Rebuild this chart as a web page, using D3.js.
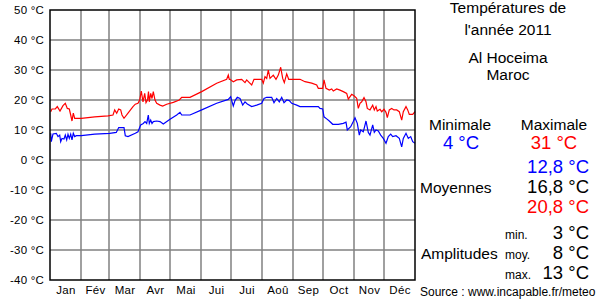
<!DOCTYPE html>
<html>
<head>
<meta charset="utf-8">
<script src="https://cdn.jsdelivr.net/npm/d3@7"></script>
<style>
  body { margin: 0; background: #fff; }
  svg { display: block; font-family: "Liberation Sans", Arial, sans-serif; }
</style>
</head>
<body>
<svg width="600" height="300"></svg>
<script>
// month names and where each month starts (day of year)
var months = ["Jan", "Fév", "Mar", "Avr", "Mai", "Jui", "Jui", "Aoû", "Sep", "Oct", "Nov", "Déc"]
var monthStarts = [0, 31, 59, 90, 120, 151, 181, 212, 243, 273, 304, 334, 365]
var tempTicks = [50, 40, 30, 20, 10, 0, -10, -20, -30, -40]

// daily maximum, [day, °C]
var maxTemps = [
    [0.7, 16.1], [2, 17], [5.3, 17], [7.3, 17.8], [10, 16.3], [13, 18.1], [15.3, 18.9], [17.3, 17.2],
    [19.3, 17], [20.7, 15], [22, 13], [23.3, 15.6], [24.7, 13.9], [31.3, 13.9], [44.7, 14.4], [58, 14.7],
    [63, 15], [64.7, 16.7], [66.7, 15.6], [68.7, 17], [70.7, 16.7], [72, 15], [74, 13.9], [78, 15.6],
    [83, 17.8], [85.3, 18.6], [88, 18.9], [89.7, 20], [91.3, 23], [93, 19.4], [94.7, 22.2], [96, 19.1],
    [97.5, 20], [98.5, 22.8], [99.3, 19.4], [100.7, 22.2], [102, 20.5], [103.3, 22.8], [105, 20],
    [106.7, 18.9], [110, 18.3], [112.7, 18], [116.7, 18.6], [123.3, 19.2], [129.3, 20], [131.7, 20.9],
    [140, 20.9], [151.7, 22.8], [166.7, 25.6], [176.7, 26.9], [178.3, 28.3], [179.3, 26.9], [180, 26.9],
    [183.3, 26.1], [186.7, 26.7], [191.7, 26.9], [195, 25.8], [196.7, 26.7], [199.3, 25.8], [201.7, 25],
    [204, 26.9], [211.7, 26.9], [213.3, 25.6], [215, 27.8], [216.7, 27.2], [218.3, 30], [220, 27.2],
    [223.3, 28.3], [226, 26.9], [228.3, 28.3], [230.7, 30.9], [232.7, 27.2], [234.3, 25.8], [236.7, 28.7],
    [238.7, 26.9], [250, 26.9], [255, 26.1], [261.7, 25.6], [266.7, 25], [268.3, 23.9], [272.7, 23.9],
    [274, 26.7], [276, 23.9], [279.3, 23.3], [281.7, 23.7], [283.3, 23], [286.7, 23.7], [290, 23.3],
    [293.3, 22.8], [296.7, 22.2], [298.3, 20.3], [301.7, 21.9], [304, 21.4], [306.7, 20.6], [308.3, 17.2],
    [310, 18.9], [311.7, 19.4], [314, 20.8], [316, 19.4], [317.3, 17.2], [320, 16.7], [322.7, 18.3],
    [324.3, 16.7], [326, 17.8], [327.3, 16.3], [330, 16.9], [331.7, 16.1], [334, 16.9], [336, 15.9],
    [337.3, 14.1], [339.3, 16.7], [341.7, 17.2], [344, 16.7], [346.7, 16.7], [349.3, 16.1], [351.7, 13.3],
    [353.3, 16.1], [356, 17.8], [357.7, 16.7], [359.3, 15.2], [362.7, 15.2], [365, 16.1]
]

// daily minimum, [day, °C]
var minTemps = [
    [0.7, 8.9], [1.3, 6.1], [3, 8.7], [6.3, 8.9], [8, 7.8], [9.7, 8.3], [10.7, 6.1], [12, 7.2], [14, 7],
    [15.3, 8.3], [16.7, 6.7], [18, 8.6], [19.3, 7.2], [20.7, 8.6], [22, 6.7], [23.3, 8.9], [24.7, 7.8],
    [26.3, 8.1], [31.3, 8.1], [44.7, 8.6], [59.7, 8.9], [66.3, 9.2], [68.7, 10.8], [74, 10.8], [75.3, 8.1],
    [78, 7.8], [85.3, 8.9], [88, 9.4], [90.7, 11.7], [93.3, 12.2], [95, 12.8], [96.7, 12.2], [98.3, 15],
    [99.3, 12.2], [100.7, 13.3], [102, 12.2], [103.3, 12.8], [106.7, 13], [110, 12.8], [113.3, 12],
    [120, 13.6], [126.7, 15], [130, 15.9], [131.7, 15], [140, 15], [151.7, 16.7], [166.7, 18.9],
    [178.3, 20.2], [180.7, 21.1], [181.7, 19.8], [183.3, 18], [185, 19.8], [187.3, 20.9], [190, 20.5],
    [192.7, 18.3], [195, 19.4], [197.3, 18.7], [201.7, 17.8], [206.7, 18.3], [211.7, 18.9], [214, 20.5],
    [216.7, 20.9], [221.7, 20.9], [224, 19.1], [226.7, 20.5], [229.3, 19.4], [231.7, 20.9], [234, 19.1],
    [236.7, 20], [239.3, 19.8], [241.7, 18.9], [246.7, 18.3], [250, 17.8], [268.3, 17.8], [270, 17.2],
    [272.7, 17], [274, 14.4], [276.7, 13.7], [279.3, 13], [282.7, 11.9], [288.3, 11.9], [293.3, 12.2],
    [296, 12.6], [297.3, 10], [300.7, 11.1], [303.3, 12.8], [305, 14.1], [307.3, 12.2], [309.3, 8.3],
    [310.7, 10], [313.3, 9.4], [316, 13], [318.3, 9.2], [320, 8.3], [322.7, 11.7], [324.3, 9.2], [326, 10],
    [328.3, 9.7], [330.7, 8.3], [333.3, 7.2], [336, 5.6], [338.3, 7.8], [340.7, 8.6], [342.7, 7.8],
    [346, 8.1], [349.3, 7.2], [351.7, 4.4], [353.3, 7.2], [356, 8.9], [358.3, 7.2], [360.7, 7.8],
    [362.7, 6.1], [365, 5.6]
]

var svg = d3.select("svg")
var plotLeft = 50, plotRight = 415, plotTop = 10, plotBottom = 280

var xScale = d3.scaleLinear().domain([0, 365]).range([plotLeft, plotRight])
var yScale = d3.scaleLinear().domain([-40, 50]).range([plotBottom, plotTop])

// grid
var grid = svg.append("g").attr("stroke", "#808080").attr("stroke-width", 1.5)
grid.selectAll(".hgrid")
    .data(tempTicks.slice(1, -1))
    .enter().append("line")
    .attr("x1", plotLeft).attr("x2", plotRight)
    .attr("y1", function (d) { return yScale(d) })
    .attr("y2", function (d) { return yScale(d) })
grid.selectAll(".vgrid")
    .data(monthStarts.slice(1, -1))
    .enter().append("line")
    .attr("y1", plotTop).attr("y2", plotBottom)
    .attr("x1", function (d) { return xScale(d) })
    .attr("x2", function (d) { return xScale(d) })

// temperature labels
svg.append("g")
    .attr("transform", "translate(" + (plotLeft - 1) + ",0)")
    .call(d3.axisLeft(yScale).tickValues(tempTicks).tickSize(0).tickPadding(5)
        .tickFormat(function (d) { return d + " °C" }))
    .call(function (g) { g.select(".domain").remove() })
    .selectAll("text")
    .attr("font-family", "Liberation Sans, Arial, sans-serif")
    .attr("font-size", 11.5)
    .attr("letter-spacing", 0.2)
    .attr("fill", "#000")

// month labels
var monthMids = months.map(function (m, i) { return (monthStarts[i] + monthStarts[i + 1]) / 2 })
svg.append("g")
    .attr("transform", "translate(0," + plotBottom + ")")
    .call(d3.axisBottom(xScale).tickValues(monthMids).tickSize(0).tickPadding(6)
        .tickFormat(function (d, i) { return months[i] }))
    .call(function (g) { g.select(".domain").remove() })
    .selectAll("text")
    .attr("font-family", "Liberation Sans, Arial, sans-serif")
    .attr("font-size", 11.5)
    .attr("letter-spacing", 0.3)
    .attr("fill", "#000")

// lines
var line = d3.line()
    .x(function (d) { return xScale(d[0]) })
    .y(function (d) { return yScale(d[1]) })

svg.append("path").datum(minTemps)
    .attr("d", line).attr("fill", "none").attr("stroke", "#0000ff").attr("stroke-width", 1.2)
svg.append("path").datum(maxTemps)
    .attr("d", line).attr("fill", "none").attr("stroke", "#ff0000").attr("stroke-width", 1.2)

// frame
svg.append("rect")
    .attr("x", plotLeft).attr("y", plotTop)
    .attr("width", plotRight - plotLeft).attr("height", plotBottom - plotTop)
    .attr("fill", "none").attr("stroke", "#000").attr("stroke-width", 1.5)

// right panel
function txt(x, y, s, size, color, anchor) {
    svg.append("text")
        .attr("x", x).attr("y", y)
        .attr("font-size", size)
        .attr("fill", color || "#000")
        .attr("text-anchor", anchor || "middle")
        .text(s)
}

txt(508, 13, "Températures de", 15.5)
txt(508, 35, "l'année 2011", 15.5)
txt(508, 63, "Al Hoceima", 15.5)
txt(508, 80, "Maroc", 15.5)

txt(460, 130, "Minimale", 15.5)
txt(554, 130, "Maximale", 15.5)
txt(461, 149, "4 °C", 18.5, "#0000ff")
txt(554, 149, "31 °C", 18.5, "#ff0000")

txt(589, 173, "12,8 °C", 18.5, "#0000ff", "end")
txt(420, 193, "Moyennes", 15.5, "#000", "start")
txt(589, 193, "16,8 °C", 18.5, "#000", "end")
txt(589, 213, "20,8 °C", 18.5, "#ff0000", "end")

txt(505, 239, "min.", 12, "#000", "start")
txt(589, 239, "3 °C", 18.5, "#000", "end")
txt(421, 259, "Amplitudes", 15.5, "#000", "start")
txt(505, 259, "moy.", 12, "#000", "start")
txt(589, 259, "8 °C", 18.5, "#000", "end")
txt(505, 279, "max.", 12, "#000", "start")
txt(589, 279, "13 °C", 18.5, "#000", "end")

txt(420, 296, "Source : www.incapable.fr/meteo", 12, "#000", "start")
</script>
</body>
</html>
